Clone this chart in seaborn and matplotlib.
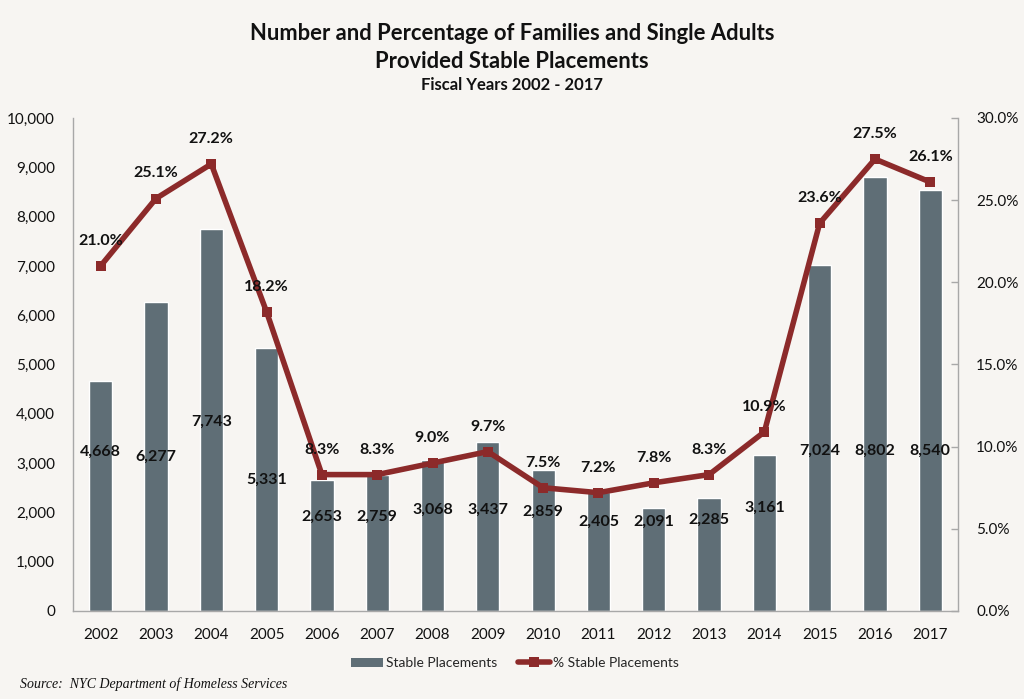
import matplotlib
matplotlib.use("Agg")
import matplotlib.pyplot as plt
import seaborn as sns
import numpy as np
import pandas as pd
from matplotlib.ticker import FuncFormatter
from matplotlib.patches import Patch
from matplotlib.lines import Line2D

years = ["2002", "2003", "2004", "2005", "2006", "2007", "2008", "2009",
         "2010", "2011", "2012", "2013", "2014", "2015", "2016", "2017"]
placements = [4668, 6277, 7743, 5331, 2653, 2759, 3068, 3437,
              2859, 2405, 2091, 2285, 3161, 7024, 8802, 8540]
pct_placements = [21.0, 25.1, 27.2, 18.2, 8.3, 8.3, 9.0, 9.7,
                  7.5, 7.2, 7.8, 8.3, 10.9, 23.6, 27.5, 26.1]
# vertical placement of the count labels (data units, as in the original)
bar_label_y = [3225, 3124, 3834, 2657, 1907, 1907, 2049, 2049,
               2008, 1805, 1805, 1846, 2089, 3245, 3245, 3245]

BG = "#f7f5f2"
BAR = "#5f6e76"
LINE = "#8c2a2a"
SPINE = "#a8a8a8"

sns.set_theme(style="white")
plt.rcParams["font.family"] = ["Lato", "DejaVu Sans"]

df = pd.DataFrame({"year": years, "placements": placements,
                   "pct": pct_placements, "pos": np.arange(len(years))})

fig = plt.figure(figsize=(10.24, 6.99), dpi=100, facecolor=BG)
ax = fig.add_axes([0.0713, 0.1259, 0.8642, 0.7053])
ax.set_facecolor(BG)

sns.barplot(data=df, x="year", y="placements", color=BAR, width=0.42,
            saturation=1, ax=ax)
ax.set_ylim(0, 10000)
ax.set_xlim(-0.5, len(years) - 0.5)
ax.set_yticks(np.arange(0, 10001, 1000))
ax.yaxis.set_major_formatter(FuncFormatter(lambda v, p: f"{int(v):,}"))
ax.set_xlabel("")
ax.set_ylabel("")
ax.tick_params(axis="y", labelsize=11, colors="#111111", length=0, pad=13)
ax.tick_params(axis="x", labelsize=11, colors="#111111", length=0, pad=12)
for s in ["top", "right"]:
    ax.spines[s].set_visible(False)
for s in ["left", "bottom"]:
    ax.spines[s].set_color(SPINE)
    ax.spines[s].set_linewidth(1.0)

for i, (v, yl) in enumerate(zip(placements, bar_label_y)):
    ax.text(i, yl, f"{v:,}", ha="center", va="center", fontsize=11.5,
            fontweight="bold", color="#111111", zorder=5)

ax2 = ax.twinx()
sns.lineplot(data=df, x="pos", y="pct", color=LINE, linewidth=4.0,
             marker="s", markersize=7.5, markeredgewidth=0, ax=ax2, zorder=4)
ax2.set_ylim(0, 30)
ax2.set_xlim(-0.5, len(years) - 0.5)
ax2.set_yticks(np.arange(0, 30.1, 5))
ax2.yaxis.set_major_formatter(FuncFormatter(lambda v, p: f"{v:.1f}%"))
ax2.set_xlabel("")
ax2.set_ylabel("")
ax2.tick_params(axis="y", labelsize=11, labelcolor="#111111", color=SPINE,
                direction="in", length=5, width=1, pad=13)
for s in ["top", "left", "bottom"]:
    ax2.spines[s].set_visible(False)
ax2.spines["right"].set_color(SPINE)
ax2.spines["right"].set_linewidth(1.0)

for i, p in enumerate(pct_placements):
    ax2.annotate(f"{p:.1f}%", (i, p), xytext=(0, 13), textcoords="offset points",
                 ha="center", va="bottom", fontsize=11.5, fontweight="bold",
                 color="#111111", zorder=6)

fig.text(0.5, 0.952, "Number and Percentage of Families and Single Adults",
         ha="center", va="center", fontsize=15.8, fontweight="bold", color="#111111")
fig.text(0.5, 0.912, "Provided Stable Placements",
         ha="center", va="center", fontsize=15.8, fontweight="bold", color="#111111")
fig.text(0.5, 0.878, "Fiscal Years 2002 - 2017",
         ha="center", va="center", fontsize=12, fontweight="bold", color="#111111")

handles = [Patch(facecolor=BAR, edgecolor="none", label="Stable Placements"),
           Line2D([0], [0], color=LINE, linewidth=4.0, marker="s", markersize=7.5,
                  markeredgewidth=0, label="% Stable Placements")]
fig.legend(handles=handles, loc="center", bbox_to_anchor=(0.503, 0.051), ncol=2,
           frameon=False, fontsize=10, handlelength=2.3, handletextpad=0.2,
           columnspacing=1.5)

fig.text(0.02, 0.022, "Source:  NYC Department of Homeless Services",
         ha="left", va="center", fontsize=10, style="italic",
         family=["Liberation Serif", "DejaVu Serif"], color="#111111")

fig.savefig("out.png", dpi=100, facecolor=BG)
